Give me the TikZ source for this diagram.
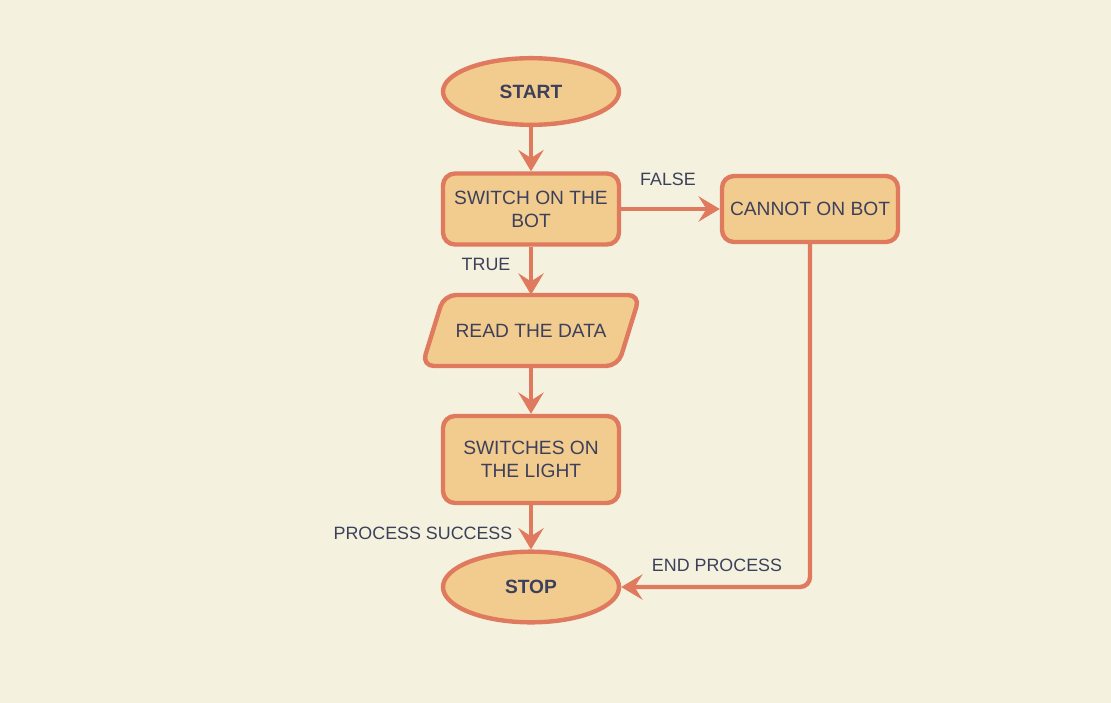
\documentclass[tikz,border=0pt]{standalone}
\usepackage{fontspec}
\setmainfont{Liberation Sans}
\usetikzlibrary{shapes.geometric,arrows.meta}
\definecolor{bg}{HTML}{F4F1DE}
\definecolor{fillc}{HTML}{F2CC8F}
\definecolor{linec}{HTML}{E07A5F}
\definecolor{txtc}{HTML}{3D405B}
\begin{document}
\begin{tikzpicture}[x=0.75pt,y=-0.75pt,
  box/.style={draw=linec, fill=fillc, line width=3.3pt, rounded corners=9pt, text=txtc, font=\fontsize{14.4}{17.25}\selectfont, align=center, inner sep=0pt, minimum width=132pt},
  term/.style={ellipse, draw=linec, fill=fillc, line width=3.3pt, text=txtc, font=\fontsize{14.4}{17.25}\selectfont\bfseries, inner sep=0pt, minimum width=132pt},
  conn/.style={draw=linec, line width=3.3pt, -{Stealth[length=16pt,width=19pt,inset=6pt]}},
  lbl/.style={text=txtc, font=\fontsize{13.4}{15}\selectfont, inner sep=0pt}]
\fill[bg] (0,0) rectangle (1111,703);
\useasboundingbox (0,0) rectangle (1111,703);
\node[term, minimum height=50pt] (start) at (531,91.5) {START};
\node[box, minimum height=53.25pt] (switch) at (531,209) {SWITCH ON THE\\BOT};
\node[box, minimum height=49.5pt] (cannot) at (810,209) {CANNOT ON BOT};
\filldraw[draw=linec, fill=fillc, line width=3.3pt, rounded corners=9pt] (444,295) -- (640,295) -- (618,366) -- (422,366) -- cycle;
\node[text=txtc, font=\fontsize{14.4}{17.25}\selectfont, inner sep=0pt, minimum width=150pt, minimum height=53.25pt] (read) at (531,330.5) {READ THE DATA};
\node[box, minimum height=65.25pt] (light) at (531,459.5) {SWITCHES ON\\THE LIGHT};
\node[term, minimum height=53pt] (stop) at (531,587) {STOP};
\draw[conn] (start) -- (switch);
\draw[conn] (switch) -- (cannot);
\draw[conn] (switch) -- (read);
\draw[conn] (read) -- (light);
\draw[conn] (light) -- (stop);
\draw[conn, rounded corners=7.5pt] (cannot.south) |- (stop.east);
\node[lbl] (lfalse) at (668,179) {FALSE};
\node[lbl] (ltrue) at (486,264) {TRUE};
\node[lbl] (lsucc) at (423,533) {PROCESS SUCCESS};
\node[lbl] (lend) at (717,565) {END PROCESS};
\end{tikzpicture}
\end{document}
